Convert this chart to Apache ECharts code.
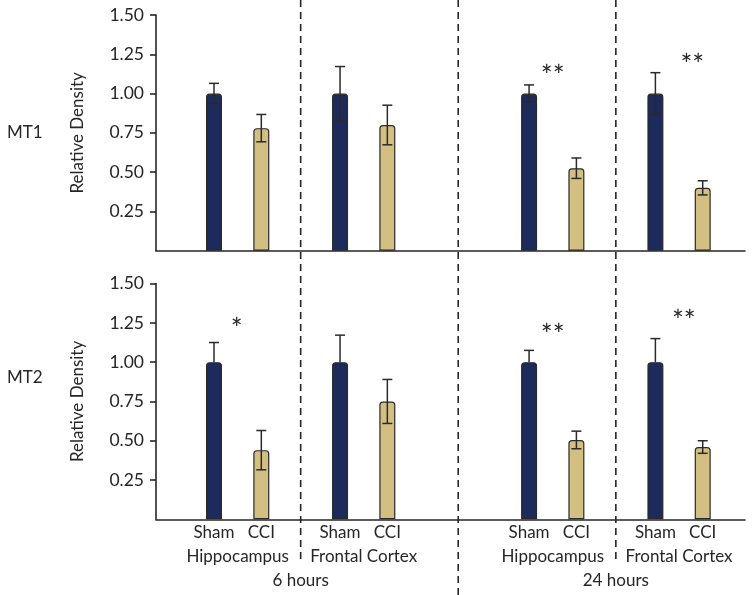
<!DOCTYPE html>
<html><head><meta charset="utf-8">
<script src="https://cdn.jsdelivr.net/npm/echarts@6/dist/echarts.min.js"></script>
<style>html,body{margin:0;padding:0;background:#fff}#c{width:752px;height:595px}</style>
</head><body><div id="c"></div>
<script>
// ---- data ----
const conditions = ['Sham', 'CCI'];
const regions = ['Hippocampus', 'Frontal Cortex', 'Hippocampus', 'Frontal Cortex'];
const timepoints = ['6 hours', '24 hours'];
const panels = ['MT1', 'MT2'];
const yTicks = [0.25, 0.5, 0.75, 1.0, 1.25, 1.5];

const mt1Sham = [1.00, 1.00, 1.00, 1.00];
const mt1ShamErr = [0.065, 0.172, 0.055, 0.133];
const mt1Cci = [0.78, 0.80, 0.525, 0.40];
const mt1CciErr = [0.087, 0.126, 0.065, 0.045];
const mt1Sig = ['', '', '**', '**'];

const mt2Sham = [1.00, 1.00, 1.00, 1.00];
const mt2ShamErr = [0.125, 0.172, 0.075, 0.15];
const mt2Cci = [0.44, 0.75, 0.505, 0.46];
const mt2CciErr = [0.125, 0.14, 0.056, 0.04];
const mt2Sig = ['*', '', '**', '**'];

// ---- layout / style ----
const FONT = 'Lato';
const NAVY = '#1c2b5b';
const TAN = '#d4bf83';
const INK = '#262626';
const GX = [1.726, 4.39, 8.386, 11.056];     // group centres on x axis
const XMAX = 12.45;
const DIVIDERS = [3.058, 6.388, 9.72];
const SIG_POS = [ // [dx, y] for annotation per panel/group
  [[0,0],[0,0],[0,1.15],[0.28,1.22]],
  [[-0.02,1.25],[0,0],[0,1.21],[0.1,1.30]]
];
const showLowerSham = [true, false];

const panelData = [
  {sham: mt1Sham, shamErr: mt1ShamErr, cci: mt1Cci, cciErr: mt1CciErr, sig: mt1Sig},
  {sham: mt2Sham, shamErr: mt2ShamErr, cci: mt2Cci, cciErr: mt2CciErr, sig: mt2Sig}
];

const chart = echarts.init(document.getElementById('c'), null, {renderer: 'canvas'});

const grids = [
  {left: 156, right: 7, top: 15, height: 235.7},
  {left: 156, right: 7, top: 283.6, height: 235.7}
];

const xAxes = [], yAxes = [], series = [];
panelData.forEach((pd, i) => {
  xAxes.push({
    gridIndex: i, type: 'value', min: 0, max: XMAX,
    axisLine: {show: true, onZero: false, lineStyle: {color: INK, width: 1.6}},
    axisTick: {show: false}, axisLabel: {show: false}, splitLine: {show: false}
  });
  yAxes.push({
    gridIndex: i, type: 'value', min: 0, max: 1.5, interval: 0.25,
    axisLine: {show: true, lineStyle: {color: INK, width: 1.6}},
    axisTick: {show: true, length: 6, customValues: yTicks, lineStyle: {color: INK, width: 1.6}},
    axisLabel: {customValues: yTicks, formatter: v => v.toFixed(2), color: INK, fontSize: 17.5, fontFamily: FONT, margin: 12},
    splitLine: {show: false},
    name: 'Relative Density', nameLocation: 'middle', nameRotate: 90, nameGap: 70,
    nameTextStyle: {color: INK, fontSize: 17, fontFamily: FONT}
  });
  const bars = [], errs = [];
  for (let g = 0; g < 4; g++) {
    bars.push({value: [GX[g] - 0.5, pd.sham[g]], itemStyle: {color: NAVY}});
    bars.push({value: [GX[g] + 0.5, pd.cci[g]], itemStyle: {color: TAN}});
    errs.push([GX[g] - 0.5, pd.sham[g], pd.shamErr[g], showLowerSham[i] ? 1 : 0]);
    errs.push([GX[g] + 0.5, pd.cci[g], pd.cciErr[g], 1]);
  }
  series.push({
    type: 'bar', xAxisIndex: i, yAxisIndex: i, barWidth: 16, data: bars,
    itemStyle: {borderColor: '#2a2a2a', borderWidth: 1.2, borderRadius: [3, 3, 0, 0]},
    z: 2, silent: true
  });
  series.push({
    type: 'custom', xAxisIndex: i, yAxisIndex: i, data: errs, z: 5, silent: true,
    renderItem: (params, api) => {
      const x = api.value(0), v = api.value(1), e = api.value(2), lower = api.value(3);
      const top = api.coord([x, v + e]);
      const bot = api.coord([x, lower ? v - e : v]);
      const cap = 5, st = {stroke: '#2a2a2a', lineWidth: 1.5};
      const ch = [
        {type: 'line', shape: {x1: top[0], y1: top[1], x2: bot[0], y2: bot[1]}, style: st},
        {type: 'line', shape: {x1: top[0] - cap, y1: top[1], x2: top[0] + cap, y2: top[1]}, style: st}
      ];
      if (lower) ch.push({type: 'line', shape: {x1: bot[0] - cap, y1: bot[1], x2: bot[0] + cap, y2: bot[1]}, style: st});
      return {type: 'group', children: ch};
    }
  });
});

chart.setOption({
  animation: false,
  grid: grids, xAxis: xAxes, yAxis: yAxes, series: series
});

// ---- overlay graphics ----
const graphic = [];
const px = (x, y, gi) => chart.convertToPixel({xAxisIndex: gi, yAxisIndex: gi}, [x, y]);
const textStyle = (t, x, y, size, align) => ({
  type: 'text', x: x, y: y, silent: true,
  style: {text: t, fill: INK, font: `${size || 17}px ${FONT}`, align: align || 'center', verticalAlign: 'middle'}
});

// panel labels
graphic.push(textStyle(panels[0], 7, 133, 17, 'left'));
graphic.push(textStyle(panels[1], 7, 378, 17, 'left'));

// dashed dividers
DIVIDERS.forEach((d, k) => {
  const p = px(d, 0, 0);
  graphic.push({type: 'line', silent: true, shape: {x1: p[0], y1: 0, x2: p[0], y2: k === 1 ? 595 : 564},
    style: {stroke: INK, lineWidth: 1.6, lineDash: [7, 5]}});
});

// category labels
for (let g = 0; g < 4; g++) {
  const s = px(GX[g] - 0.5, 0, 1), c = px(GX[g] + 0.5, 0, 1), m = px(GX[g], 0, 1);
  graphic.push(textStyle(conditions[0], s[0], 533));
  graphic.push(textStyle(conditions[1], c[0], 533));
  graphic.push(textStyle(regions[g], m[0], 557));
}
timepoints.forEach((t, k) => {
  const p = px(DIVIDERS[k * 2], 0, 1);
  graphic.push(textStyle(t, p[0], 581));
});

// significance marks
panelData.forEach((pd, i) => {
  pd.sig.forEach((s, g) => {
    if (!s) return;
    const p = px(GX[g] + SIG_POS[i][g][0], SIG_POS[i][g][1], i);
    graphic.push(textStyle(s, p[0], p[1] + 7, 28));
  });
});

chart.setOption({graphic: graphic});
</script></body></html>
